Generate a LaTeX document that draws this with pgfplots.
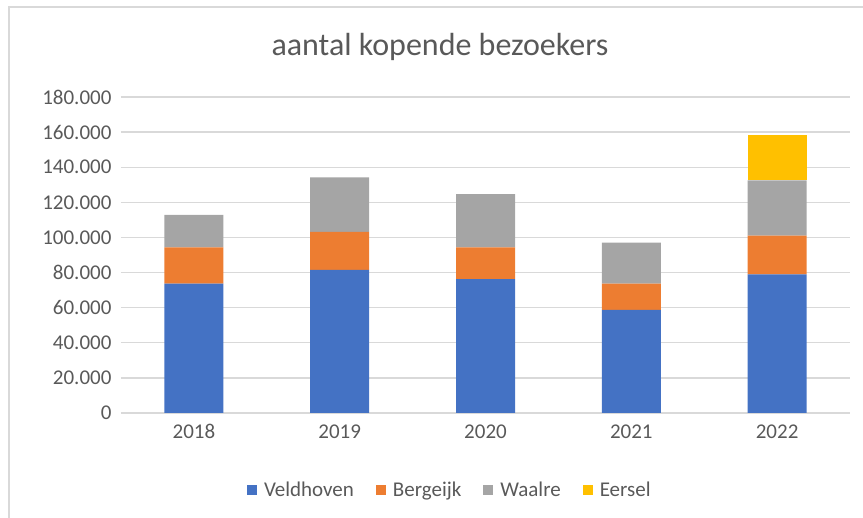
\documentclass[border=0pt]{standalone}
\usepackage{pgfplots}
\pgfplotsset{compat=1.18}
\usepackage{fontspec}
\setmainfont{Carlito}
\definecolor{cblue}{RGB}{68,114,196}
\definecolor{corange}{RGB}{237,125,49}
\definecolor{cgray}{RGB}{165,165,165}
\definecolor{cyellow}{RGB}{255,192,0}
\definecolor{gridc}{RGB}{217,217,217}
\definecolor{txt}{RGB}{89,89,89}
\begin{document}
\begin{tikzpicture}
\useasboundingbox (0pt,0pt) rectangle (863pt,518pt);
\draw[gridc, line width=1.2pt] (9pt,0pt) -- (9pt,511pt) -- (863pt,511pt);
\node[txt, font=\fontsize{32}{38}\selectfont] at (440pt,471pt) {aantal kopende bezoekers};
\begin{axis}[
  at={(121pt,105pt)}, anchor=south west,
  scale only axis, width=729pt, height=316pt,
  ybar stacked, bar width=59pt,
  xmin=-0.5, xmax=4.5, ymin=0, ymax=180000,
  xtick=data, xticklabels={2018,2019,2020,2021,2022},
  ytick={0,20000,40000,60000,80000,100000,120000,140000,160000,180000},
  yticklabels={0,20.000,40.000,60.000,80.000,100.000,120.000,140.000,160.000,180.000},
  scaled y ticks=false,
  ymajorgrids, grid style={gridc, line width=1.3pt},
  axis x line*=bottom, axis y line*=left,
  x axis line style={gridc, line width=1.3pt, -},
  y axis line style={draw=none},
  major tick length=0pt,
  tick label style={txt, font=\fontsize{21}{25}\selectfont},
  yticklabel style={xshift=-6pt},
  xticklabel style={yshift=-8pt},
  ytick style={draw=none}, xtick style={draw=none},
  legend style={at={(0.451,-0.244)}, anchor=center, draw=none, fill=none,
    legend columns=-1, font=\fontsize{21}{25}\selectfont, text=txt,
    /tikz/every odd column/.append style={column sep=5pt},
    /tikz/every even column/.append style={column sep=20pt}},
  legend image code/.code={\fill[#1] (0pt,-5pt) rectangle (10pt,5pt);},
]
\addplot[fill=cblue, draw=none] coordinates {(0,73700) (1,81500) (2,76300) (3,58700) (4,79000)};
\addplot[fill=corange, draw=none] coordinates {(0,20700) (1,21600) (2,18100) (3,15000) (4,22000)};
\addplot[fill=cgray, draw=none] coordinates {(0,18400) (1,31100) (2,30200) (3,23300) (4,31500)};
\addplot[fill=cyellow, draw=none] coordinates {(0,0) (1,0) (2,0) (3,0) (4,26000)};
\legend{Veldhoven,Bergeijk,Waalre,Eersel}
\end{axis}
\end{tikzpicture}
\end{document}
